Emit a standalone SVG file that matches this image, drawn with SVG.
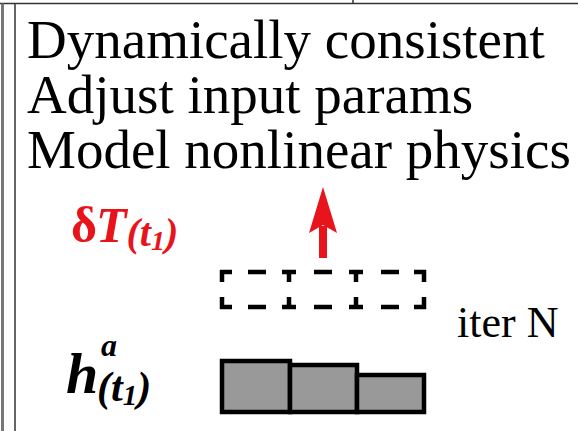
<svg xmlns="http://www.w3.org/2000/svg" width="578" height="431" viewBox="0 0 578 431">
<style>
.lbl{font-family:"Liberation Serif",Tinos,"Times New Roman","DejaVu Serif",serif;font-size:55px;fill:#000}
.rm{font-family:"Liberation Serif",Tinos,"Times New Roman","DejaVu Serif",serif}
.it{font-family:"Liberation Serif",Tinos,"Times New Roman","DejaVu Serif",serif;font-style:italic;font-weight:bold}
.dash{fill:none;stroke:#000;stroke-width:4.5}
.bar{fill:#999;stroke:#000;stroke-width:4.5}
</style>
<rect width="578" height="431" fill="#fff"/>
<g id="frame">
<line x1="0" y1="3.5" x2="578" y2="3.5" stroke="#333" stroke-width="1.5"/>
<line x1="353" y1="0" x2="353" y2="3.5" stroke="#333" stroke-width="1.5"/>
<line x1="2.5" y1="3.5" x2="2.5" y2="431" stroke="#777" stroke-width="3"/>
<line x1="15" y1="3.5" x2="15" y2="431" stroke="#333" stroke-width="1.5"/>
</g>
<g id="text-lines">
<text class="lbl" x="27" y="58">Dynamically consistent</text>
<text class="lbl" x="27" y="113">Adjust input params</text>
<text class="lbl" x="27" y="168">Model nonlinear physics</text>
</g>
<g id="delta-T" fill="#e8141b">
<text class="rm" x="71" y="242" font-weight="bold" font-size="50">δ<tspan class="it" dx="-1">T</tspan><tspan class="it" font-size="40" dy="4">(t</tspan><tspan class="it" font-size="28" dy="4">1</tspan><tspan class="it" font-size="40" dy="-4">)</tspan></text>
</g>
<g id="h-a">
<text class="it" x="66" y="393" font-size="58">h</text>
<text class="it" x="101" y="356" font-size="32">a</text>
<text class="it" x="97" y="401" font-size="42">(t<tspan font-size="29" dy="4">1</tspan><tspan dy="-4">)</tspan></text>
</g>
<g id="iter-label">
<text class="rm" x="457" y="337" font-size="44">iter N</text>
</g>
<g id="dashed-boxes">
<path class="dash" d="M220,272 H232 M248,272 H266 M282,272 H296 M314,272 H332 M349,272 H363 M381,272 H399 M414,272 H426"/>
<path class="dash" d="M220,307 H232 M248,307 H266 M282,307 H296 M314,307 H332 M349,307 H363 M381,307 H399 M414,307 H426"/>
<path class="dash" d="M222,270 V282 M222,297 V309 M289,270 V282 M289,297 V309 M356,270 V282 M356,297 V309 M424,270 V282 M424,297 V309"/>
</g>
<g id="bars">
<rect class="bar" x="222" y="361" width="68" height="51"/>
<rect class="bar" x="290" y="365" width="67" height="47"/>
<rect class="bar" x="357" y="375" width="67" height="37"/>
</g>
<g id="connectors">
<rect x="319" y="226" width="8" height="32" fill="#e8141b"/>
<path d="M323,187 L337,233 L323,225 L309,233 Z" fill="#e8141b"/>
</g>
</svg>
